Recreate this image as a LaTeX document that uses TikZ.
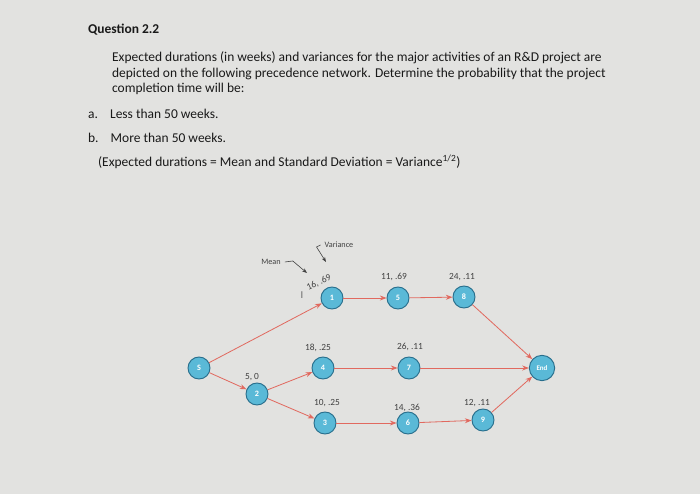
\documentclass[tikz,border=0pt]{standalone}
\usepackage{fontspec}
\setmainfont{Carlito}
\usetikzlibrary{arrows.meta}
\definecolor{bg}{RGB}{226,226,224}
\definecolor{nodefill}{RGB}{90,185,215}
\definecolor{nodeedge}{RGB}{40,110,140}
\definecolor{arr}{RGB}{225,105,95}
\tikzset{
 act/.style={circle,draw=nodeedge,line width=0.8pt,fill=nodefill,minimum size=6.6mm,inner sep=0pt,font=\fontsize{7}{8}\selectfont\bfseries,text=white},
 lab/.style={font=\fontsize{8}{9}\selectfont,text=black!75},
 link/.style={draw=arr,line width=0.7pt,-{Stealth[length=2mm]}},
 txt/.style={anchor=west,font=\fontsize{11.5}{13}\selectfont,text=black!90},
}
\begin{document}
\begin{tikzpicture}[x=0.3mm,y=-0.3mm]
\path[fill=bg] (0,0) rectangle (700,494);
\useasboundingbox (0,0) rectangle (700,494);
\node[txt,font=\fontsize{11.5}{13}\selectfont\bfseries] (q) at (84,30) {Question 2.2};
\node[txt] (l1) at (108,58) {Expected durations (in weeks) and variances for the major activities of an R\&D project are};
\node[txt] (l2) at (108,74) {depicted on the following precedence network. Determine the probability that the project};
\node[txt] (l3) at (108,89) {completion time will be:};
\node[txt] (la) at (84,114) {a.\hspace{0.9em}Less than 50 weeks.};
\node[txt] (lb) at (84,138) {b.\hspace{0.9em}More than 50 weeks.};
\node[txt] (lc) at (94,162) {(Expected durations = Mean and Standard Deviation = Variance\textsuperscript{1/2})};

\node[act] (S) at (199,368) {S};
\node[act] (n1) at (332,298) {1};
\node[act] (n5) at (398,298) {5};
\node[act] (n8) at (464,297) {8};
\node[act] (n2) at (257,394) {2};
\node[act] (n4) at (323,368) {4};
\node[act] (n7) at (409,368) {7};
\node[act,minimum size=7.6mm,font=\fontsize{6}{7}\selectfont\bfseries] (E) at (542,368) {End};
\node[act] (n3) at (325,423) {3};
\node[act] (n6) at (408,423) {6};
\node[act] (n9) at (483,420) {9};

\node[lab,rotate=25] (t1) at (319,283) {16, .69};
\node[lab] (t5) at (394,277) {11, .69};
\node[lab] (t8) at (462,277) {24, .11};
\node[lab] (t4) at (318,348) {18, .25};
\node[lab] (t7) at (410,347) {26, .11};
\node[lab] (t2) at (252,377) {5, 0};
\node[lab] (t3) at (327,403) {10, .25};
\node[lab] (t6) at (407,408) {14, .36};
\node[lab] (t9) at (477,403) {12, .11};
\node[lab,font=\fontsize{7}{8}\selectfont] (mean) at (271,262) {Mean};
\node[lab,font=\fontsize{7}{8}\selectfont] (var) at (339,245) {Variance};
\node[text=black!60,font=\fontsize{9}{10}\selectfont] (cur) at (302,295) {I};
\coordinate (mt) at (307,273);
\coordinate (vt) at (326,262);
\draw[black!75,line width=0.5pt,-{Stealth[length=1.5mm]}] (mean.east) -- ++(8,-1) -- (mt);
\draw[black!75,line width=0.5pt,-{Stealth[length=1.5mm]}] (var.west) -- ++(-4,2) -- (vt);

\draw[link] (S) -- (n1);
\draw[link] (S) -- (n2);
\draw[link] (n1) -- (n5);
\draw[link] (n5) -- (n8);
\draw[link] (n8) -- (E);
\draw[link] (n2) -- (n4);
\draw[link] (n2) -- (n3);
\draw[link] (n4) -- (n7);
\draw[link] (n7) -- (E);
\draw[link] (n3) -- (n6);
\draw[link] (n6) -- (n9);
\draw[link] (n9) -- (E);
\end{tikzpicture}
\end{document}
